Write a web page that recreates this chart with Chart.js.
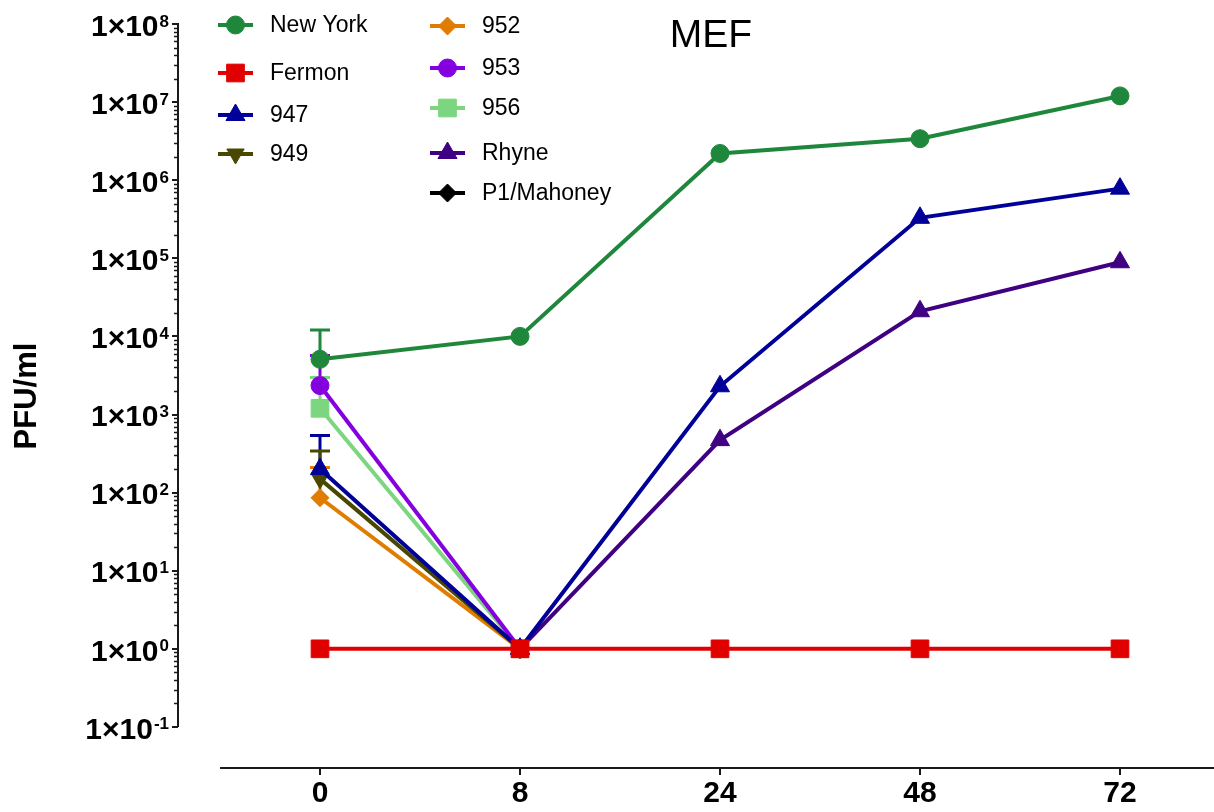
<!DOCTYPE html>
<html lang="en">
<head>
<meta charset="UTF-8" />
<title>MEF</title>
<script src="https://cdn.jsdelivr.net/npm/chart.js"></script>
<style>
  html, body { margin: 0; padding: 0; background: #fff; overflow: hidden; }
  #mef { display: block; }
</style>
</head>
<body>
<canvas id="mef" width="1214" height="812"></canvas>
<script>
// hours post infection (categories) and y decades
const hours = ['0', '8', '24', '48', '72'];
const decades = [0.1, 1, 10, 100, 1e3, 1e4, 1e5, 1e6, 1e7, 1e8];

// PFU/ml per strain
const newYork = [5100, 10000, 2.2e6, 3.4e6, 1.2e7];
const fermon = [1, 1, 1, 1, 1];
const s947 = [200, 1, 2300, 3.3e5, 7.8e5];
const s949 = [150, 1, null, null, null];
const s952 = [86, 1, null, null, null];
const s953 = [2350, 1, null, null, null];
const s956 = [1200, 1, null, null, null];
const rhyne = [null, 1, 470, 2.1e4, 8.9e4];
const p1Mahoney = [null, null, null, null, null];

// upper SD bars (only shown at 0 h)
const newYorkErr = [7000, null, null, null, null];
const s947Err = [340, null, null, null, null];
const s949Err = [190, null, null, null, null];
const s952Err = [124, null, null, null, null];
const s953Err = [3350, null, null, null, null];
const s956Err = [1780, null, null, null, null];

const FONT = "'Liberation Sans', Arial, sans-serif";

function series(label, values, errs, color, style, radius, rotation) {
  return {
    label: label,
    data: values.map((v, i) => ({ x: i, y: v })),
    errs: errs,
    borderColor: color,
    backgroundColor: color,
    pointBackgroundColor: color,
    pointBorderColor: color,
    pointBorderWidth: 1,
    pointStyle: style,
    pointRadius: radius,
    pointRotation: rotation || 0,
    borderWidth: 4,
    tension: 0
  };
}

const datasets = [
  series('New York', newYork, newYorkErr, '#1f873b', 'circle', 9),
  series('Fermon', fermon, null, '#e10000', 'rect', 12.5),
  series('947', s947, s947Err, '#000099', 'triangle', 11),
  series('949', s949, s949Err, '#4a4800', 'triangle', 10, 180),
  series('952', s952, s952Err, '#e07c00', 'rectRot', 9),
  series('953', s953, s953Err, '#8400de', 'circle', 9),
  series('956', s956, s956Err, '#7bd67f', 'rect', 12.5),
  series('Rhyne', rhyne, null, '#3f0082', 'triangle', 11),
  series('P1/Mahoney', p1Mahoney, null, '#000000', 'rectRot', 9)
];

function drawMarker(ctx, ds, x, y) {
  if (Chart.helpers && Chart.helpers.drawPoint) {
    ctx.fillStyle = ds.pointBackgroundColor;
    ctx.strokeStyle = ds.pointBorderColor;
    ctx.lineWidth = 1;
    Chart.helpers.drawPoint(ctx, { pointStyle: ds.pointStyle, rotation: ds.pointRotation, radius: ds.pointRadius, borderWidth: 1 }, x, y);
  }
}

const decor = {
  id: 'decor',
  beforeDatasetsDraw(chart) {
    const ctx = chart.ctx, xs = chart.scales.x, ys = chart.scales.y, area = chart.chartArea;
    ctx.save();
    // axes, GraphPad style (detached)
    ctx.strokeStyle = '#1a1a1a';
    ctx.lineWidth = 2;
    ctx.beginPath();
    ctx.moveTo(area.left, ys.getPixelForValue(decades[0]));
    ctx.lineTo(area.left, ys.getPixelForValue(decades[decades.length - 1]) - 1);
    ctx.moveTo(xs.getPixelForValue(-0.5), area.bottom);
    ctx.lineTo(area.right, area.bottom);
    ctx.stroke();
    // minor log ticks
    ctx.lineWidth = 1.5;
    ctx.beginPath();
    for (let d = 0; d < decades.length - 1; d++) {
      for (let k = 2; k <= 9; k++) {
        const py = Math.round(ys.getPixelForValue(decades[d] * k)) + 0.5;
        ctx.moveTo(area.left - 4, py);
        ctx.lineTo(area.left, py);
      }
    }
    ctx.stroke();
    // upper error bars
    ctx.lineWidth = 3;
    chart.data.datasets.forEach(ds => {
      if (!ds.errs) return;
      ds.data.forEach((p, i) => {
        const e = ds.errs[i];
        if (e == null || p.y == null) return;
        const px = xs.getPixelForValue(p.x);
        const y0 = ys.getPixelForValue(p.y);
        const y1 = ys.getPixelForValue(p.y + e);
        ctx.strokeStyle = ds.borderColor;
        ctx.beginPath();
        ctx.moveTo(px, y0);
        ctx.lineTo(px, y1);
        ctx.moveTo(px - 10, y1);
        ctx.lineTo(px + 10, y1);
        ctx.stroke();
      });
    });
    ctx.restore();
  },
  afterDraw(chart) {
    const ctx = chart.ctx, ys = chart.scales.y;
    ctx.save();
    ctx.fillStyle = '#000';
    // y tick labels 1x10^n with a real superscript
    const right = chart.chartArea.left - 9;
    ys.ticks.forEach(t => {
      const py = ys.getPixelForValue(t.value);
      const exp = String(Math.round(Math.log10(t.value)));
      ctx.font = 'bold 17px ' + FONT;
      ctx.textAlign = 'right';
      ctx.textBaseline = 'alphabetic';
      const capTop = py + 1 - 10.7;
      ctx.fillText(exp, right, capTop + 12.2);
      const w = ctx.measureText(exp).width;
      ctx.font = 'bold 30px ' + FONT;
      ctx.fillText('1×10', right - w - 1, py + 1 + 10.7);
    });
    // title
    ctx.font = '39px ' + FONT;
    ctx.textAlign = 'center';
    ctx.textBaseline = 'middle';
    ctx.fillText('MEF', 711, 36);
    // legend, two columns
    const cols = [
      { x: 218, rows: [25, 73, 115, 154] },
      { x: 430, rows: [26, 68, 108, 153, 193] }
    ];
    let n = 0;
    ctx.font = '23px ' + FONT;
    ctx.textAlign = 'left';
    cols.forEach(col => {
      col.rows.forEach(ry => {
        const ds = chart.data.datasets[n++];
        if (!ds) return;
        ctx.strokeStyle = ds.borderColor;
        ctx.lineWidth = 4;
        ctx.beginPath();
        ctx.moveTo(col.x, ry);
        ctx.lineTo(col.x + 35, ry);
        ctx.stroke();
        drawMarker(ctx, ds, col.x + 17.5, ry);
        ctx.fillStyle = '#000';
        ctx.fillText(ds.label, col.x + 52, ry + 1);
      });
    });
    ctx.restore();
  }
};

new Chart(document.getElementById('mef'), {
  type: 'line',
  data: { datasets: datasets },
  plugins: [decor],
  options: {
    responsive: false,
    animation: false,
    devicePixelRatio: 1,
    layout: { autoPadding: false, padding: { top: 24, right: 0, left: 0, bottom: 0 } },
    plugins: { legend: { display: false }, title: { display: false }, tooltip: { enabled: false } },
    scales: {
      x: {
        type: 'linear',
        min: -0.71,
        max: 4.47,
        afterBuildTicks: s => { s.ticks = hours.map((h, i) => ({ value: i })); },
        afterFit: s => { s.height = 44; },
        border: { display: false },
        grid: { drawOnChartArea: false, drawTicks: true, tickLength: 7, color: '#1a1a1a', lineWidth: 2 },
        ticks: {
          padding: 1,
          color: '#000',
          font: { family: FONT, size: 30, weight: 'bold' },
          maxRotation: 0,
          callback: v => hours[v]
        }
      },
      y: {
        type: 'logarithmic',
        min: 0.0298,
        max: 1e8,
        afterBuildTicks: s => { s.ticks = decades.map(v => ({ value: v })); },
        afterFit: s => { s.width = 178; },
        border: { display: false },
        grid: { drawOnChartArea: false, drawTicks: true, tickLength: 6, color: '#1a1a1a', lineWidth: 2 },
        ticks: { display: false },
        title: {
          display: true,
          text: 'PFU/ml',
          color: '#000',
          padding: { top: 9, bottom: 0 },
          font: { family: FONT, size: 31, weight: 'bold' }
        }
      }
    }
  }
});
</script>
</body>
</html>
